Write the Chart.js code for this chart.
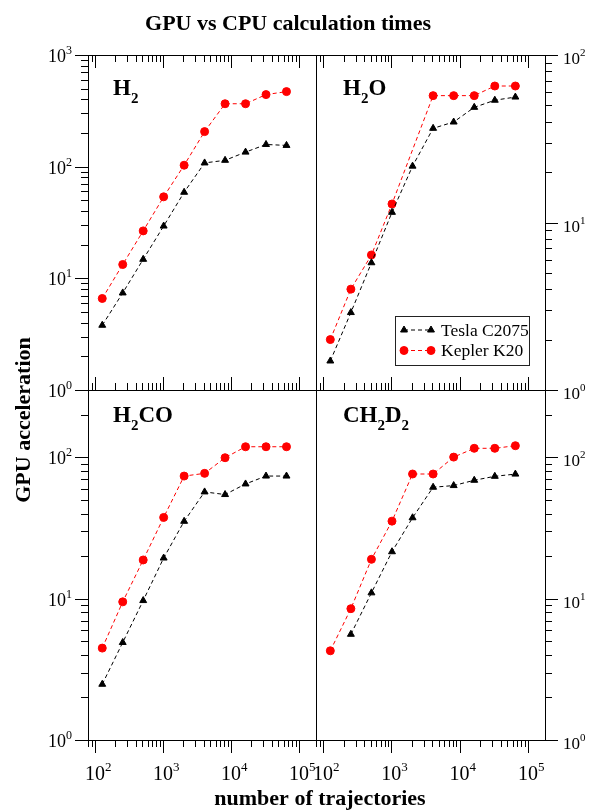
<!DOCTYPE html>
<html>
<head>
<meta charset="utf-8">
<title>GPU vs CPU calculation times</title>
<script src="https://cdn.jsdelivr.net/npm/chart.js@4/dist/chart.umd.min.js"></script>
<style>
  body { margin: 0; background: #fff; }
  #figure { position: relative; width: 592px; height: 812px; }
  #figure canvas { position: absolute; left: 0; top: 0; }
</style>
</head>
<body>
<div id="figure">
  <canvas id="chart-h2" width="592" height="812"></canvas>
  <canvas id="chart-h2o" width="592" height="812"></canvas>
  <canvas id="chart-h2co" width="592" height="812"></canvas>
  <canvas id="chart-ch2d2" width="592" height="812"></canvas>
</div>
<script>
'use strict';

// number of trajectories (x) shared by every panel
const trajectories = [128, 256, 512, 1024, 2048, 4096, 8192, 16384, 32768, 65536];

// GPU acceleration (null = no point drawn)
const h2Tesla = [3.8, 7.4, 14.8, 29.4, 59, 108, 114, 135, 158, 155];
const h2Kepler = [6.6, 13.3, 26.6, 53.7, 103, 206, 366, 366, 442, 470];

const h2oTesla = [1.49, 2.9, 5.75, 11.5, 21.7, 36.5, 39.8, 48.7, 53.7, 56.1];
const h2oKepler = [2.0, 4.0, 6.4, 12.9, null, 57.2, 57.2, 57.2, 65.3, 65.3];

const h2coTesla = [2.48, 4.9, 9.7, 19.4, 35.3, 57, 54.6, 64.9, 73.8, 73.8];
const h2coKepler = [4.47, 9.5, 18.8, 37.6, 73.8, 77.1, 99.5, 119, 119, 119];

const ch2d2Tesla = [null, 5.6, 11.0, 21.5, 37.4, 61.5, 63.2, 68.9, 73.5, 76.2];
const ch2d2Kepler = [4.28, 8.5, 19.0, 35.4, 76.3, 76.3, 100.5, 116, 116, 121];

const seriesNames = ['Tesla C2075', 'Kepler K20'];
const xRange = [79, 178000];
const yMaxima = [1000, 100, 300, 300];

const FONT = '"Liberation Serif", "Times New Roman", serif';
const W = 592;
const H = 812;

const panels = [
  {
    canvas: 'chart-h2', formula: [['H'], ['2', true]], tesla: h2Tesla, kepler: h2Kepler, yMax: yMaxima[0],
    box: { left: 88, top: 55, right: 316, bottom: 390 }, labelAt: [113, 95],
    topTicks: 1, bottomTicks: -1, ySide: 'left', xLabels: false, legend: false, global: true,
  },
  {
    canvas: 'chart-h2o', formula: [['H'], ['2', true], ['O']], tesla: h2oTesla, kepler: h2oKepler, yMax: yMaxima[1],
    box: { left: 316, top: 55, right: 545, bottom: 390 }, labelAt: [343, 95],
    topTicks: 1, bottomTicks: -1, ySide: 'right', xLabels: false, legend: true,
  },
  {
    canvas: 'chart-h2co', formula: [['H'], ['2', true], ['CO']], tesla: h2coTesla, kepler: h2coKepler, yMax: yMaxima[2],
    box: { left: 88, top: 390, right: 316, bottom: 740 }, labelAt: [113, 422],
    topTicks: 0, bottomTicks: 1, ySide: 'left', xLabels: true, legend: false,
  },
  {
    canvas: 'chart-ch2d2', formula: [['CH'], ['2', true], ['D'], ['2', true]], tesla: ch2d2Tesla, kepler: ch2d2Kepler, yMax: yMaxima[3],
    box: { left: 316, top: 390, right: 545, bottom: 740 }, labelAt: [343, 422],
    topTicks: 0, bottomTicks: 1, ySide: 'right', xLabels: true, legend: false,
  },
];

const teslaStyle = { color: '#000000', pointStyle: 'triangle', radius: 4 };
const keplerStyle = { color: '#ff0000', pointStyle: 'circle', radius: 4 };

function tickValues(min, max) {
  const values = [];
  const first = Math.floor(Math.log10(min));
  const last = Math.ceil(Math.log10(max));
  for (let e = first; e <= last; e++) {
    for (let m = 1; m <= 9; m++) {
      const v = m * Math.pow(10, e);
      if (v >= min * 0.999 && v <= max * 1.001) values.push({ v, major: m === 1, exp: e });
    }
  }
  return values;
}

function drawPower(ctx, exp, x, y, align, size, supSize, rise) {
  ctx.font = `${size}px ${FONT}`;
  const wb = ctx.measureText('10').width;
  ctx.font = `${supSize}px ${FONT}`;
  const ws = ctx.measureText(String(exp)).width;
  let x0 = x;
  if (align === 'center') x0 = x - wb / 2;
  if (align === 'right') x0 = x - wb - ws;
  ctx.textAlign = 'left';
  ctx.textBaseline = 'alphabetic';
  ctx.font = `${size}px ${FONT}`;
  ctx.fillText('10', x0, y);
  ctx.font = `${supSize}px ${FONT}`;
  ctx.fillText(String(exp), x0 + wb, y - rise);
}

function drawFormula(ctx, parts, x, y) {
  ctx.textAlign = 'left';
  ctx.textBaseline = 'alphabetic';
  let cx = x;
  parts.forEach(([text, sub]) => {
    ctx.font = sub ? `bold 15px ${FONT}` : `bold 23px ${FONT}`;
    ctx.fillText(text, cx, sub ? y + 8 : y);
    cx += ctx.measureText(text).width;
  });
}

function drawMarker(ctx, style, x, y) {
  ctx.fillStyle = style.color;
  ctx.strokeStyle = style.color;
  ctx.setLineDash([]);
  if (Chart.helpers && Chart.helpers.drawPoint) {
    Chart.helpers.drawPoint(ctx, { pointStyle: style.pointStyle, radius: style.radius, rotation: 0, borderWidth: 1 }, x, y);
  }
}

function drawLegend(ctx) {
  ctx.save();
  ctx.strokeStyle = '#222';
  ctx.lineWidth = 1;
  ctx.setLineDash([]);
  ctx.strokeRect(395.5, 316.5, 134, 49);
  const rows = [[teslaStyle, 330, 336], [keplerStyle, 350.5, 356]];
  rows.forEach(([style, my, ty], i) => {
    ctx.strokeStyle = style.color;
    ctx.lineWidth = 1;
    ctx.setLineDash([4, 3]);
    ctx.beginPath();
    ctx.moveTo(404, my);
    ctx.lineTo(431, my);
    ctx.stroke();
    drawMarker(ctx, style, 404, my);
    drawMarker(ctx, style, 431, my);
    ctx.fillStyle = '#000';
    ctx.font = `17.5px ${FONT}`;
    ctx.textAlign = 'left';
    ctx.textBaseline = 'alphabetic';
    ctx.fillText(seriesNames[i], 441, ty);
  });
  ctx.restore();
}

function drawGlobalText(ctx) {
  ctx.save();
  ctx.fillStyle = '#000';
  ctx.font = `bold 22px ${FONT}`;
  ctx.textAlign = 'center';
  ctx.textBaseline = 'alphabetic';
  ctx.fillText('GPU vs CPU calculation times', 288, 30);
  ctx.fillText('number of trajectories', 320, 805);
  ctx.translate(30, 420);
  ctx.rotate(-Math.PI / 2);
  ctx.fillText('GPU acceleration', 0, 0);
  ctx.restore();
}

function panelDecor(panel) {
  return {
    id: 'panelDecor',
    afterDraw(chart) {
      const { ctx, chartArea: a } = chart;
      const xs = chart.scales.x;
      const ys = chart.scales.y;
      ctx.save();
      ctx.strokeStyle = '#000';
      ctx.fillStyle = '#000';
      ctx.lineWidth = 1;
      ctx.setLineDash([]);
      ctx.strokeRect(Math.round(a.left) + 0.5, Math.round(a.top) + 0.5,
        Math.round(a.right - a.left), Math.round(a.bottom - a.top));

      ctx.beginPath();
      tickValues(xs.min, xs.max).forEach((t) => {
        const px = Math.round(xs.getPixelForValue(t.v)) + 0.5;
        const len = t.major ? 13 : 7;
        if (panel.topTicks) {
          ctx.moveTo(px, a.top);
          ctx.lineTo(px, a.top + panel.topTicks * len);
        }
        if (panel.bottomTicks) {
          ctx.moveTo(px, a.bottom);
          ctx.lineTo(px, a.bottom + panel.bottomTicks * len);
        }
      });
      tickValues(ys.min, ys.max).forEach((t) => {
        const py = Math.round(ys.getPixelForValue(t.v)) + 0.5;
        const len = t.major ? 13 : 7;
        if (panel.ySide === 'left') {
          ctx.moveTo(a.left, py);
          ctx.lineTo(a.left - len, py);
        } else {
          ctx.moveTo(a.right, py);
          ctx.lineTo(a.right + len, py);
        }
      });
      ctx.stroke();

      tickValues(ys.min, ys.max).filter((t) => t.major).forEach((t) => {
        const py = ys.getPixelForValue(t.v);
        if (panel.ySide === 'left') drawPower(ctx, t.exp, 72, py + 7, 'right', 18, 12, 8);
        else drawPower(ctx, t.exp, 563, py + 9, 'left', 17, 11, 8);
      });

      if (panel.xLabels) {
        tickValues(xs.min, xs.max).filter((t) => t.major).forEach((t) => {
          drawPower(ctx, t.exp, xs.getPixelForValue(t.v), 780, 'center', 20, 13, 9);
        });
      }

      drawFormula(ctx, panel.formula, panel.labelAt[0], panel.labelAt[1]);
      if (panel.legend) drawLegend(ctx);
      if (panel.global) drawGlobalText(ctx);
      ctx.restore();
    },
  };
}

function makeDataset(label, values, style) {
  return {
    label,
    data: trajectories.map((n, i) => ({ x: n, y: values[i] })),
    borderColor: style.color,
    backgroundColor: style.color,
    borderWidth: 1,
    borderDash: [4, 3],
    pointStyle: style.pointStyle,
    pointRadius: style.radius,
    pointBorderWidth: 1,
    pointBackgroundColor: style.color,
    pointBorderColor: style.color,
    tension: 0,
    spanGaps: true,
    fill: false,
  };
}

panels.forEach((panel) => {
  const b = panel.box;
  new Chart(document.getElementById(panel.canvas), {
    type: 'line',
    data: {
      datasets: [
        makeDataset(seriesNames[0], panel.tesla, teslaStyle),
        makeDataset(seriesNames[1], panel.kepler, keplerStyle),
      ],
    },
    options: {
      responsive: false,
      animation: false,
      devicePixelRatio: 1,
      layout: { padding: { left: b.left, top: b.top, right: W - b.right, bottom: H - b.bottom } },
      plugins: {
        legend: { display: false },
        tooltip: { enabled: false },
        title: { display: false },
      },
      scales: {
        x: { type: 'logarithmic', min: xRange[0], max: xRange[1], bounds: 'data', display: false },
        y: { type: 'logarithmic', min: 1, max: panel.yMax, bounds: 'data', display: false },
      },
    },
    plugins: [panelDecor(panel)],
  });
});
</script>
</body>
</html>
